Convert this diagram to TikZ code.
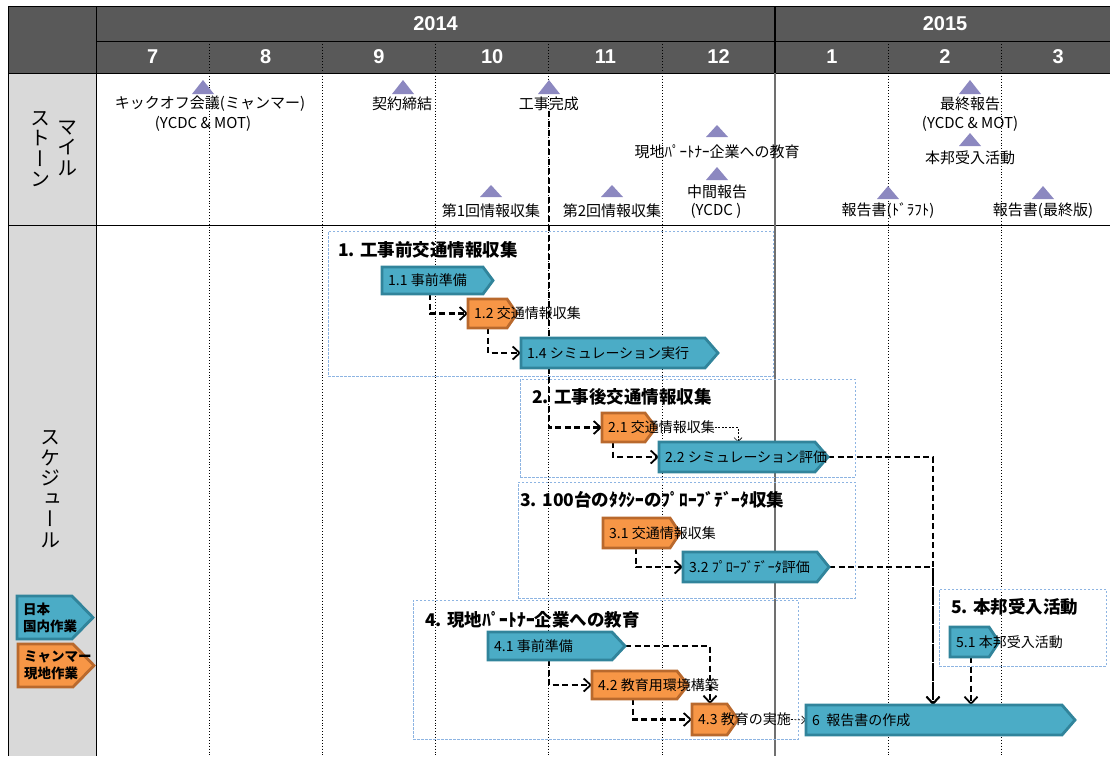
\documentclass[tikz,border=0pt]{standalone}
\usepackage{fontspec}
\setmainfont{Noto Sans CJK JP}
\newfontfamily\hdrfont{Liberation Sans}
\newfontfamily\vfont[RawFeature={+vert}]{Noto Sans CJK JP}
\usetikzlibrary{arrows.meta,calc}
\definecolor{hdr}{HTML}{595959}
\definecolor{lcol}{HTML}{D9D9D9}
\definecolor{bfill}{HTML}{4BACC6}
\definecolor{bline}{HTML}{31849B}
\definecolor{ofill}{HTML}{F79646}
\definecolor{oline}{HTML}{B9692D}
\definecolor{grp}{HTML}{8DB4E2}
\definecolor{mst}{HTML}{8C88C0}
\definecolor{yline}{HTML}{707070}
\pgfdeclarelayer{gridlayer}
\pgfdeclarelayer{connlayer}
\pgfsetlayers{gridlayer,connlayer,main}
\tikzset{
  hdrtext/.style={text=white, font=\hdrfont\bfseries\fontsize{20}{24}\selectfont, inner sep=0},
  vlab/.style={font=\vfont\fontsize{20}{20.5}\selectfont, inner sep=0, align=center},
  mtext/.style={font=\fontsize{15}{18}\selectfont, inner sep=0},
  gtitle/.style={font=\bfseries\fontsize{17.5}{20}\selectfont, inner sep=0, anchor=west},
  grpbox/.style={draw=grp, line width=0.9pt, dash pattern=on 2.5pt off 1.5pt, inner sep=0, outer sep=0, anchor=north west},
  taskbox/.style={inner sep=0, outer sep=0},
  bluetask/.style={fill=bfill, draw=bline, line width=2.8pt},
  orangetask/.style={fill=ofill, draw=oline, line width=2.8pt},
  tasktext/.style={font=\fontsize{14}{17}\selectfont, inner sep=0, align=left},
  legtext/.style={font=\bfseries\fontsize{13.5}{17}\selectfont, inner sep=0, align=left},
  dep/.style={line width=2.1pt, dash pattern=on 6pt off 3.5pt, -{Straight Barb[length=7pt,width=13pt,line width=1.8pt]}},
  thindep/.style={line width=0.7pt, dash pattern=on 2pt off 1.5pt, -{Straight Barb[length=4pt,width=8pt,line width=0.7pt]}},
  msfill/.style={fill=mst}
}
% #1 name, #2 x1, #3 y1, #4 x2, #5 y2, #6 style, #7 tip, #8 text style, #9 text
\newcommand{\tasknode}[9]{%
  \node[taskbox, minimum width={#4-#2}, minimum height={#5-#3}, anchor=north west] (#1) at (#2,#3) {};
  \draw[#6] (#1.north west) -- ([xshift=-#7 pt]#1.north east) -- (#1.east) -- ([xshift=-#7 pt]#1.south east) -- (#1.south west) -- cycle;
  \node[#8, anchor=west] (#1t) at ([xshift=6pt]#1.west) {#9};
}
\newcommand{\mstri}[3]{\fill[msfill] (#1-11,#3) -- (#1,#2) -- (#1+11,#3) -- cycle;}
\begin{document}
\begin{tikzpicture}[x=1pt,y=-1pt]
\useasboundingbox (0,0) rectangle (1110,756);
\begin{pgfonlayer}{gridlayer}
% backgrounds
\fill[hdr] (8,6) rectangle (1110,73);
\fill[lcol] (8,73) rectangle (96,756);
% month dotted lines
\foreach \x in {209.2,322.4,435.6,548.8,662,888.4,1001.6}
  \draw[line width=0.9pt, dotted] (\x,41) -- (\x,756);
% grid lines
\draw[line width=1pt] (8,6) -- (1110,6);
\draw[line width=1pt] (96,41) -- (1110,41);
\draw[line width=1pt] (8,73) -- (1110,73);
\draw[line width=1pt] (8,225) -- (1110,225);
\draw[line width=1pt] (8,6) -- (8,756);
\draw[line width=1pt] (96,6) -- (96,756);
\draw[line width=1.5pt, black] (775.2,6) -- (775.2,73);
\draw[line width=1.8pt, yline] (775.2,73) -- (775.2,756);
% group boxes
\node[grpbox, minimum width=445, minimum height=145] (g1) at (328,231) {};
\node[grpbox, minimum width=335, minimum height=98] (g2) at (520,379) {};
\node[grpbox, minimum width=337, minimum height=116] (g3) at (518,482) {};
\node[grpbox, minimum width=385, minimum height=139] (g4) at (413,600) {};
\node[grpbox, minimum width=167, minimum height=77] (g5) at (939,589) {};
\end{pgfonlayer}
% header text
\node[hdrtext] (y2014) at (435.6,23.5) {2014};
\node[hdrtext] (y2015) at (945,23.5) {2015};
\foreach \m [count=\i from 0] in {7,8,9,10,11,12,1,2,3}
  \node[hdrtext] (mo\i) at ({96+113.2*(\i+0.5)},57) {\m};
% vertical labels
\node[vlab] (va) at (67,148) {マ\\イ\\ル};
\node[vlab] (vb) at (40,149) {ス\\ト\\ー\\ン};
\node[vlab] (vc) at (50,489) {ス\\ケ\\ジ\\ュ\\ー\\ル};
% milestones
\mstri{203}{80}{94}
\mstri{403}{80}{94}
\mstri{549}{80}{94}
\mstri{717}{125}{137}
\mstri{717}{167}{180}
\mstri{491}{185}{197}
\mstri{612}{185}{197}
\mstri{888}{186}{199}
\mstri{970}{80}{94}
\mstri{970}{133}{146}
\mstri{1043}{186}{199}
\node[mtext] (ms1) at (210,104) {キックオフ会議(ミャンマー)};
\node[mtext] (ms1b) at (203,124) {(YCDC \& MOT)};
\node[mtext] (ms2) at (402,104) {契約締結};
\node[mtext] (ms3) at (548.8,104) {工事完成};
\node[mtext] (ms4) at (717,152) {現地ﾊﾟｰﾄﾅｰ企業への教育};
\node[mtext] (ms5) at (717,192) {中間報告};
\node[mtext] (ms5b) at (716,211) {(YCDC )};
\node[mtext] (ms6) at (491,211) {第1回情報収集};
\node[mtext] (ms7) at (612,211) {第2回情報収集};
\node[mtext] (ms8) at (888,211) {報告書(ﾄﾞﾗﾌﾄ)};
\node[mtext] (ms9) at (970,104) {最終報告};
\node[mtext] (ms9b) at (970,124) {(YCDC \& MOT)};
\node[mtext] (ms10) at (970,158) {本邦受入活動};
\node[mtext] (ms11) at (1043,211) {報告書(最終版)};
% group titles
\node[gtitle] (g1t) at (338,250) {1. 工事前交通情報収集};
\node[gtitle] (g2t) at (532,397) {2. 工事後交通情報収集};
\node[gtitle] (g3t) at (520,500) {3. 100台のﾀｸｼｰのﾌﾟﾛｰﾌﾞﾃﾞｰﾀ収集};
\node[gtitle] (g4t) at (425,620) {4. 現地ﾊﾟｰﾄﾅｰ企業への教育};
\node[gtitle] (g5t) at (951,607) {5. 本邦受入活動};
% tasks
\tasknode{t11}{382}{267}{493}{294}{bluetask}{10}{tasktext}{1.1 事前準備}
\tasknode{t12}{468}{299}{517}{328}{orangetask}{10}{tasktext}{1.2 交通情報収集}
\tasknode{t14}{521}{338}{718}{368}{bluetask}{13}{tasktext}{1.4 シミュレーション実行}
\tasknode{t21}{602}{413}{656}{442}{orangetask}{11}{tasktext}{2.1 交通情報収集}
\tasknode{t22}{659}{442}{828}{472}{bluetask}{13}{tasktext}{2.2 シミュレーション評価}
\tasknode{t31}{603}{518}{680}{548}{orangetask}{10}{tasktext}{3.1 交通情報収集}
\tasknode{t32}{683}{552}{829}{582}{bluetask}{12}{tasktext}{3.2 ﾌﾟﾛｰﾌﾞﾃﾞｰﾀ評価}
\tasknode{t41}{488}{632}{625}{660}{bluetask}{13}{tasktext}{4.1 事前準備}
\tasknode{t42}{592}{671}{688}{699}{orangetask}{11}{tasktext}{4.2 教育用環境構築}
\tasknode{t43}{692}{704}{738}{735}{orangetask}{11}{tasktext}{4.3 教育の実施}
\tasknode{t51}{950}{627}{999}{657}{bluetask}{10}{tasktext}{5.1 本邦受入活動}
\tasknode{t6}{806}{705}{1075}{735}{bluetask}{13}{tasktext}{6\ \ 報告書の作成}
% legend
\tasknode{lgb}{17}{596}{93}{639}{bluetask}{21}{legtext}{日本\\国内作業}
\tasknode{lgo}{18}{644}{94}{687}{orangetask}{21}{legtext}{ミャンマー\\現地作業}
% connectors
\begin{pgfonlayer}{connlayer}
\draw[dep] (ms3.south) |- (t21.west);
\draw[dep] ([xshift=48pt]t11.south west) |- (t12.west);
\draw[dep] ([xshift=20pt]t12.south west) |- (t14.west);
\draw[dep] ([xshift=11pt]t21.south west) |- (t22.west);
\draw[thindep] (t21t.east) -| ([xshift=79pt]t22.north west);
\draw[dep] ([xshift=33pt]t31.south west) |- (t32.west);
\draw[dep] (t22.east) -| ([xshift=127pt]t6.north west);
\draw[dep] (t32.east) -| ([xshift=127pt]t6.north west);
\draw[dep] ([xshift=21pt]t51.south west) -- ([xshift=165pt]t6.north west);
\draw[dep] (t41.east) -| ([xshift=18pt]t43.north west);
\draw[dep] ([xshift=61pt]t41.south west) |- (t42.west);
\draw[dep] ([xshift=41pt]t42.south west) |- (t43.west);
\draw[thindep] (t43t.east) -- (t6.west);
\end{pgfonlayer}
\end{tikzpicture}
\end{document}
